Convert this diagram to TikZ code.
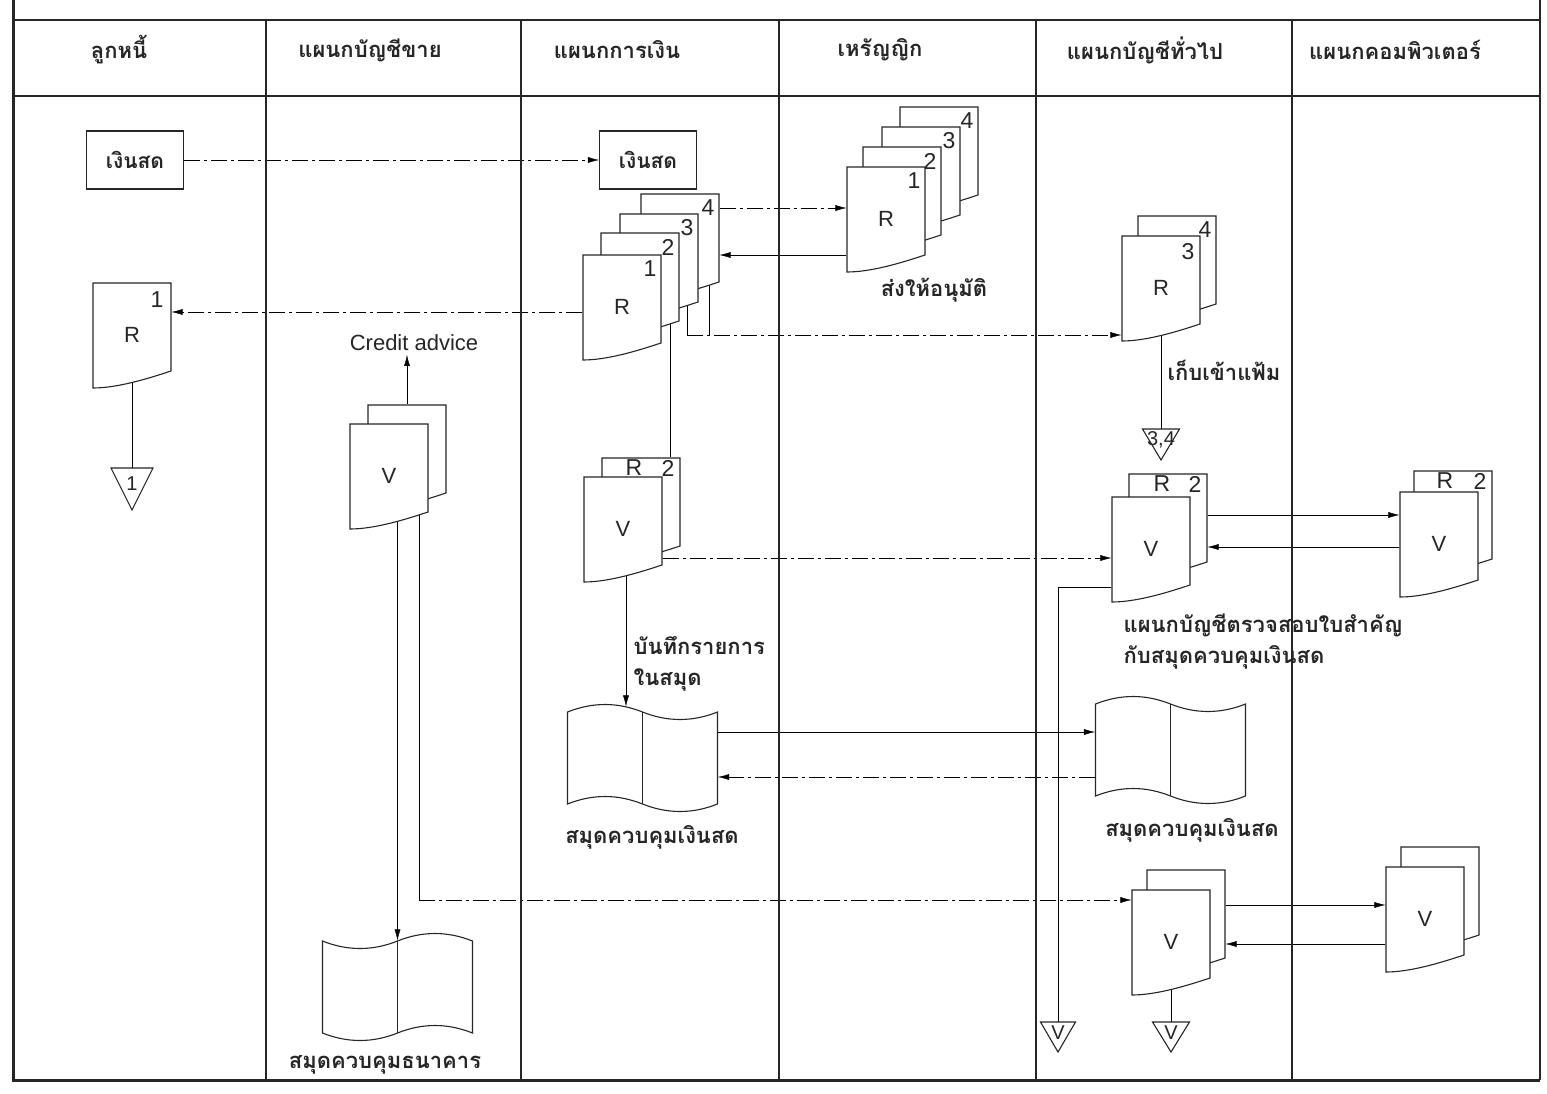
\documentclass[tikz,border=0pt]{standalone}
\usepackage{fontspec}
\setmainfont{Liberation Sans}
\newfontfamily\thaifont[Script=Thai]{Loma}
\usetikzlibrary{arrows.meta}
\pgfdeclarelayer{background}
\pgfsetlayers{background,main}

% document symbol: name, x, y, text
\newcommand{\docu}[4]{%
  \draw[docline] ([shift={(-39pt,52pt)}]#2,#3) -- ([shift={(39pt,52pt)}]#2,#3)
    -- ([shift={(39pt,-36pt)}]#2,#3)
    .. controls ([shift={(15pt,-44pt)}]#2,#3) and ([shift={(-15pt,-53pt)}]#2,#3)
    .. ([shift={(-39pt,-53pt)}]#2,#3) -- cycle;
  \node[docbox] (#1) at (#2,#3) {#4};}

% book symbol: name, x, y, wave direction
\newcommand{\ledger}[4]{%
  \begin{scope}[shift={(#2,#3)},xscale=#4]
    \draw[docline] (-75pt,46pt) .. controls (-50pt,56pt) and (-25pt,56pt) .. (0pt,46pt)
      .. controls (25pt,36pt) and (50pt,36pt) .. (75pt,46pt) -- (75pt,-46pt)
      .. controls (50pt,-56pt) and (25pt,-56pt) .. (0pt,-46pt)
      .. controls (-25pt,-36pt) and (-50pt,-36pt) .. (-75pt,-46pt) -- cycle;
    \draw[docline] (0pt,46pt) -- (0pt,-46pt);
  \end{scope}
  \node[ledgerbox] (#1) at (#2,#3) {};}

% file symbol: name, x, top, half width, height, text
\newcommand{\filetri}[6]{%
  \coordinate (#1) at (#2,#3);
  \draw[docline] ([xshift=-#4pt]#1) -- ([xshift=#4pt]#1) -- ([yshift=-#5pt]#1) -- cycle;
  \node[tritext] (#1-t) at ([yshift={-0.36*#5pt}]#1) {#6};}

\begin{document}
\begin{tikzpicture}[x=1pt,y=-1pt,color=black!85,line width=1.1pt,
  lane/.style={line width=1.3pt},
  docline/.style={line width=1.1pt,fill=white},
  docbox/.style={minimum width=78pt,minimum height=105pt,inner sep=0pt,font=\fontsize{22}{24}\selectfont},
  ledgerbox/.style={minimum width=150pt,minimum height=92pt,inner sep=0pt},
  cashbox/.style={draw,line width=1.1pt,minimum width=97pt,minimum height=58pt,font=\thaifont\bfseries\fontsize{21}{24}\selectfont},
  num/.style={inner sep=0pt,font=\fontsize{23}{24}\selectfont},
  tritext/.style={inner sep=0pt,font=\fontsize{20}{20}\selectfont},
  thai/.style={inner sep=1pt,font=\thaifont\bfseries\fontsize{22}{31}\selectfont},
  head/.style={thai},
  flow/.style={-{Latex[length=11pt,width=6pt]}},
  ddot/.style={dash pattern=on 16pt off 4pt on 3pt off 4pt}
]
  \useasboundingbox (0,0) rectangle (1547,1094);

  % frame and lanes
  \draw[line width=3pt] (13,0) -- (13,1080) -- (1540,1080);
  \draw[line width=2pt] (1540,0) -- (1540,1080);
  \draw[line width=1.6pt] (13,20) -- (1540,20);
  \draw[lane] (13,96) -- (1540,96);
  \foreach \x in {266,521,779,1036,1292}
    \draw[lane] (\x,20) -- (\x,1080);

  \foreach \x/\t [count=\i] in {119/ลูกหนี้,370/แผนกบัญชีขาย,617/แผนกการเงิน,880/เหรัญญิก,1145/แผนกบัญชีทั่วไป,1395/แผนกคอมพิวเตอร์}
    \node[head] (h\i) at (\x,50) {\t};

  % customer
  \node[cashbox] (cash1) at (135,160) {เงินสด};
  \docu{cr}{132}{335}{R}
  \node[num] (cr-n) at ([shift={(25pt,35pt)}]cr.center) {1};
  \filetri{t1}{132}{468}{21}{42}{1}

  % sales accounting
  \node[font=\fontsize{22}{24}\selectfont] (credit) at (414,343) {Credit advice};
  \docu{svb}{407}{457}{}
  \docu{sv}{389}{476}{V}
  \ledger{bank}{397.5}{987}{-1}
  \node[thai] (bank-l) at (385,1065) {สมุดควบคุมธนาคาร};

  % finance
  \node[cashbox] (cash2) at (648,160) {เงินสด};
  \docu{fr4}{680}{246}{}
  \node[num] (fr4-n) at ([shift={(28pt,38pt)}]fr4.center) {4};
  \docu{fr3}{659}{266}{}
  \node[num] (fr3-n) at ([shift={(28pt,38pt)}]fr3.center) {3};
  \docu{fr2}{640}{285}{}
  \node[num] (fr2-n) at ([shift={(28pt,38pt)}]fr2.center) {2};
  \docu{fr1}{622}{307}{R}
  \node[num] (fr1-n) at ([shift={(28pt,38pt)}]fr1.center) {1};
  \docu{fvb}{641}{510}{}
  \node[num] (fvb-t) at ([shift={(-7pt,42pt)}]fvb.center) {R};
  \node[num] (fvb-n) at ([shift={(27pt,42pt)}]fvb.center) {2};
  \docu{fv}{623}{529}{V}
  \node[thai,anchor=west,align=left] (rec) at (632,664) {บันทึกรายการ\\ในสมุด};
  \ledger{book3}{642.5}{758}{1}
  \node[thai] (book3-l) at (652,837) {สมุดควบคุมเงินสด};

  % treasurer
  \docu{tr4}{939}{159}{}
  \node[num] (tr4-n) at ([shift={(28pt,38pt)}]tr4.center) {4};
  \docu{tr3}{921}{179}{}
  \node[num] (tr3-n) at ([shift={(28pt,38pt)}]tr3.center) {3};
  \docu{tr2}{902}{199}{}
  \node[num] (tr2-n) at ([shift={(28pt,38pt)}]tr2.center) {2};
  \docu{tr1}{886}{219}{R}
  \node[num] (tr1-n) at ([shift={(28pt,38pt)}]tr1.center) {1};
  \node[thai] (appr) at (934,290) {ส่งให้อนุมัติ};

  % general accounting
  \docu{gr4}{1177}{268}{}
  \node[num] (gr4-n) at ([shift={(28pt,38pt)}]gr4.center) {4};
  \docu{gr3}{1161}{288}{R}
  \node[num] (gr3-n) at ([shift={(27pt,36pt)}]gr3.center) {3};
  \node[thai,anchor=west] (keep) at (1166,370) {เก็บเข้าแฟ้ม};
  \filetri{t34}{1161}{429}{18.5}{31}{3,4}
  \docu{gvb}{1168}{526}{}
  \node[num] (gvb-t) at ([shift={(-6pt,42pt)}]gvb.center) {R};
  \node[num] (gvb-n) at ([shift={(27pt,42pt)}]gvb.center) {2};
  \docu{gv}{1151}{549}{V}
  \node[thai,anchor=north west,align=left] (check) at (1122,612) {แผนกบัญชีตรวจสอบใบสำคัญ\\กับสมุดควบคุมเงินสด};
  \ledger{gbook}{1170.5}{750}{1}
  \node[thai] (gbook-l) at (1192,830) {สมุดควบคุมเงินสด};
  \docu{lvb}{1186}{922}{}
  \docu{lv}{1171}{942}{V}
  \filetri{tv1}{1058}{1022}{17.5}{30}{V}
  \filetri{tv2}{1171}{1022}{18.5}{30}{V}

  % computer
  \docu{cvb}{1453}{523}{}
  \node[num] (cvb-t) at ([shift={(-8pt,42pt)}]cvb.center) {R};
  \node[num] (cvb-n) at ([shift={(27pt,42pt)}]cvb.center) {2};
  \docu{cv}{1439}{544}{V}
  \docu{clb}{1440}{899}{}
  \docu{cl}{1425}{919}{V}

  \begin{pgfonlayer}{background}
    \draw[flow,ddot] (cash1.east) -- (cash2.west);
    \draw[flow,ddot] ([yshift=-5pt]fr1.west) -- ([yshift=23pt]cr.east);
    \draw (cr.center) -- (cr.center |- t1);
    \draw[flow] (svb.north) -- (svb.north |- credit.south);
    \draw[flow] ([xshift=8.5pt]sv.center) -- (bank.north);
    \draw ([xshift=12pt]svb.center) -- ++(0pt,-443pt) coordinate (svturn);
    \draw[flow,ddot] (svturn) -- ([yshift=42pt]lv.west);
    \draw[flow,ddot] ([yshift=38pt]fr4.east) -- ([yshift=11pt]tr1.west);
    \draw[flow] ([yshift=-36pt]tr1.west) -- ([yshift=-9pt]fr4.east);
    \draw ([xshift=28pt]fr3.center) -- ++(0pt,-69pt) coordinate (rjoin);
    \draw ([xshift=29pt]fr4.center) -- ++(0pt,-89pt);
    \draw[flow,ddot] (rjoin) -- ([yshift=-47pt]gr3.west);
    \draw ([xshift=30pt]fr2.center) -- ([xshift=29pt]fvb.north);
    \draw[flow] ([xshift=3pt]fv.center) -- ([shift={(-16.5pt,5pt)}]book3.north);
    \draw[flow,ddot] ([yshift=-29pt]fv.east) -- ([yshift=-9pt]gv.west);
    \draw[flow] ([yshift=26pt]book3.east) -- ([yshift=18pt]gbook.west);
    \draw[flow,ddot] ([yshift=-27pt]gbook.west) -- ([yshift=-19pt]book3.east);
    \draw (gr3.center) -- (gr3.center |- t34);
    \draw[flow] ([yshift=11pt]gvb.east) -- ([yshift=29pt]cv.west);
    \draw[flow] ([yshift=-3pt]cv.west) -- ([yshift=-21pt]gvb.east);
    \draw ([yshift=-38pt]gv.west) -| (tv1);
    \draw[flow] ([yshift=17pt]lvb.east) -- ([yshift=14pt]cl.west);
    \draw[flow] ([yshift=-25pt]cl.west) -- ([yshift=-22pt]lvb.east);
    \draw (lv.center) -- (lv.center |- tv2);
  \end{pgfonlayer}
\end{tikzpicture}
\end{document}
